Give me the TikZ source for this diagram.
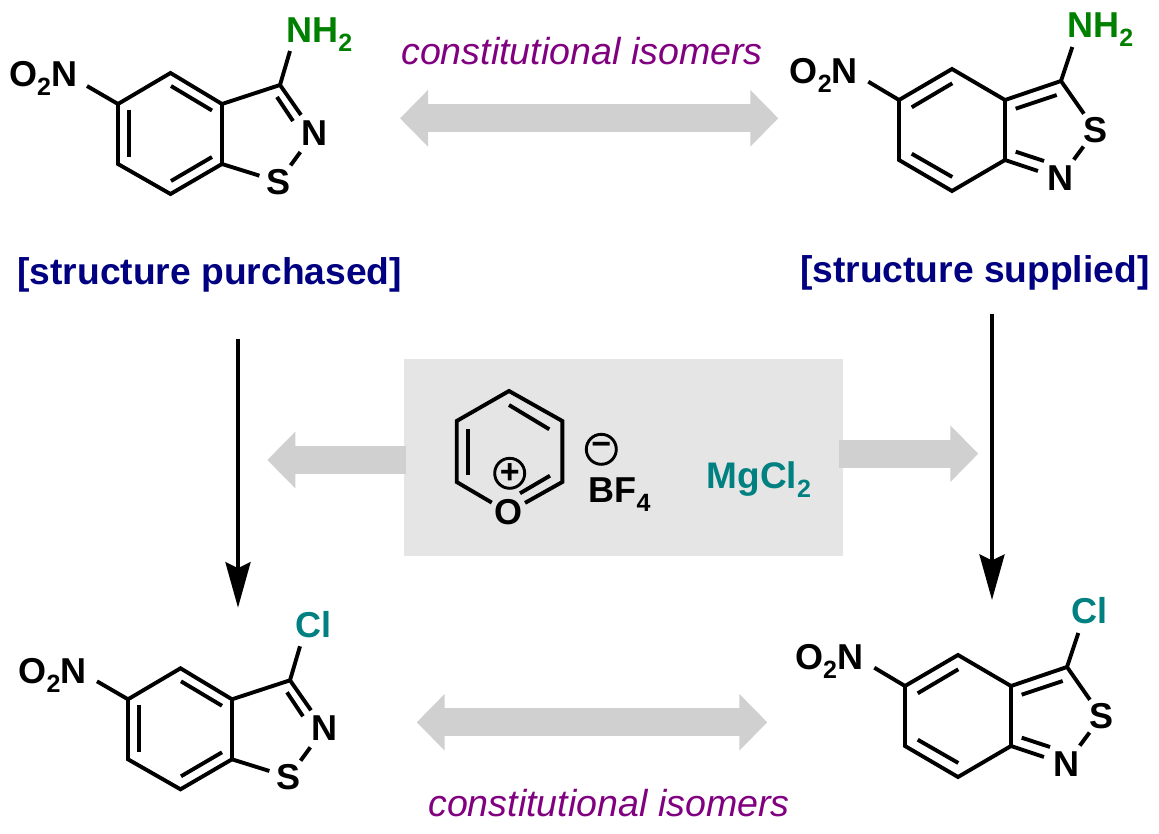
\documentclass[tikz,border=0pt]{standalone}
\usepackage{fontspec}
\setmainfont{Liberation Sans}
\usetikzlibrary{arrows.meta}
\definecolor{bigarrow}{HTML}{D0D0D0}
\definecolor{panel}{HTML}{E5E5E5}
\definecolor{amine}{HTML}{008000}
\definecolor{halide}{HTML}{008080}
\definecolor{tag}{HTML}{000080}
\definecolor{note}{HTML}{800080}
\newcommand\lab{\fontsize{36}{36}\selectfont\bfseries}
\newcommand\subs[1]{\raisebox{-8.7pt}{\fontsize{25}{25}\selectfont\bfseries #1}}
\tikzset{
  bond/.style={line width=3.9pt,line join=miter,miter limit=4},
  thinbond/.style={line width=3.9pt},
  atom/.style={circle,inner sep=0pt,font=\lab},
  atomN/.style={atom,minimum size=46pt},
  atomS/.style={atom,minimum size=40pt},
  atomO/.style={atom,minimum size=38pt},
  chem/.style={inner sep=0pt,font=\lab},
  tagtext/.style={inner sep=0pt,anchor=base west,text=tag,font=\fontsize{37.2}{37.2}\selectfont\bfseries},
  notetext/.style={inner sep=0pt,anchor=base west,text=note,font=\fontsize{37.6}{37.6}\selectfont\itshape},
  wide2/.style={bigarrow,line width=28pt,{Triangle[length=28pt,width=55pt]}-{Triangle[length=28pt,width=55pt]}},
  wide1/.style={bigarrow,line width=28pt,-{Triangle[length=28pt,width=55pt]}},
  react/.style={line width=3.8pt,-{Stealth[length=45.5pt,width=25pt,inset=6pt]}},
  charge/.style={circle,draw,line width=2.9pt,minimum size=30pt,inner sep=0pt,font=\fontsize{34}{34}\selectfont\bfseries}
}
% 1,2-benzisothiazole: #1 prefix, #2 shift, #3 substituent colour, #4 substituent text, #5 its left x, #6 its baseline, #7 O2N right x, #8 O2N baseline
\newcommand\isoA[8]{%
\begin{scope}[shift={#2},name prefix=#1-]
  \coordinate (c5) at (118,104); \coordinate (c4) at (170.5,73); \coordinate (c3a) at (222,104);
  \coordinate (c7a) at (222,164); \coordinate (c7) at (170.5,194); \coordinate (c6) at (118,164);
  \coordinate (c3) at (280,85);
  \node[atomN] (n) at (314,133.3) {N};
  \node[atomS] (s) at (278.7,181.7) {S};
  \coordinate (ne) at (301,115);
  \coordinate (i1a) at (129,110); \coordinate (i1b) at (129,157);
  \coordinate (i2a) at (171,86); \coordinate (i2b) at (212,110.5);
  \coordinate (i3a) at (171,181); \coordinate (i3b) at (212,157);
  \coordinate (i4a) at (277,97); \coordinate (i4b) at (293,121);
  \coordinate (rend) at (290,51); \coordinate (nend) at (87,86);
  \draw[bond] (c5) -- (c4) -- (c3a) -- (c7a) -- (c7) -- (c6) -- cycle;
  \draw[bond] (c3a) -- (c3) -- (ne);
  \draw[bond] (c7a) -- (s);
  \draw[bond] (n) -- (s);
  \draw[thinbond] (i1a) -- (i1b);
  \draw[thinbond] (i2a) -- (i2b);
  \draw[thinbond] (i3a) -- (i3b);
  \draw[thinbond] (i4a) -- (i4b);
  \draw[bond] (c3) -- (rend);
  \draw[bond] (c5) -- (nend);
  \node[chem,anchor=base east] (no) at (#7,#8) {O\subs{2}N};
  \node[chem,anchor=base west,text=#3] (sub) at (#5,#6) {#4};
\end{scope}}
% 2,1-benzisothiazole
\newcommand\isoB[8]{%
\begin{scope}[shift={#2},name prefix=#1-]
  \coordinate (c5) at (899,100); \coordinate (c4) at (952,69); \coordinate (c3a) at (1005,100);
  \coordinate (c7a) at (1005,160); \coordinate (c7) at (952,191); \coordinate (c6) at (899,160);
  \coordinate (c3) at (1061,81);
  \node[atomS] (s) at (1095.5,130.3) {S};
  \node[atomN] (n) at (1060,178.3) {N};
  \coordinate (i1a) at (911.7,107.3); \coordinate (i1b) at (952.3,83.3);
  \coordinate (i2a) at (911.7,153.7); \coordinate (i2b) at (952.3,177);
  \coordinate (i3a) at (1015.7,108.7); \coordinate (i3b) at (1056.7,95);
  \coordinate (i4a) at (1015.7,151.7); \coordinate (i4b) at (1044,161);
  \coordinate (rend) at (1072.3,47); \coordinate (nend) at (868.3,81.7);
  \draw[bond] (c5) -- (c4) -- (c3a) -- (c7a) -- (c7) -- (c6) -- cycle;
  \draw[bond] (c3a) -- (c3) -- (s);
  \draw[bond] (c7a) -- (n);
  \draw[bond] (s) -- (n);
  \draw[thinbond] (i1a) -- (i1b);
  \draw[thinbond] (i2a) -- (i2b);
  \draw[thinbond] (i3a) -- (i3b);
  \draw[thinbond] (i4a) -- (i4b);
  \draw[bond] (c3) -- (rend);
  \draw[bond] (c5) -- (nend);
  \node[chem,anchor=base east] (no) at (#7,#8) {O\subs{2}N};
  \node[chem,anchor=base west,text=#3] (sub) at (#5,#6) {#4};
\end{scope}}
\begin{document}
\begin{tikzpicture}[x=1pt,y=-1pt]
\useasboundingbox (0,0) rectangle (1159,834);
% panel
\node[fill=panel,inner sep=0pt,minimum width=439pt,minimum height=197pt,anchor=north west] (box) at (404,359) {};
% molecules
\isoA{a}{(0,0)}{amine}{NH\subs{2}}{286.2}{42.5}{77.3}{87}
\isoB{b}{(0,0)}{amine}{NH\subs{2}}{1067.2}{37.5}{858}{83.7}
\isoA{c}{(10,595.3)}{halide}{Cl}{285}{42.2}{76.7}{88}
\isoB{d}{(6,586)}{halide}{Cl}{1065.7}{37}{857.3}{83.3}
% labels
\node[notetext] (n1) at (401,64.5) {constitutional isomers};
\node[notetext] (n2) at (428,816) {constitutional isomers};
\node[tagtext] (t1) at (17.3,284.5) {[structure purchased]};
\node[tagtext] (t2) at (800,282.5) {[structure supplied]};
% wide arrows
\coordinate (w1a) at (400,118.3); \coordinate (w1b) at (778.3,118.3);
\coordinate (w2a) at (416.7,722.3); \coordinate (w2b) at (767.3,722.3);
\coordinate (w3a) at (405.7,460); \coordinate (w3b) at (267.3,460);
\coordinate (w4a) at (839.3,453.7); \coordinate (w4b) at (978.3,453.7);
\draw[wide2] (w1a) -- (w1b);
\draw[wide2] (w2a) -- (w2b);
\draw[wide1] (w3a) -- (w3b);
\draw[wide1] (w4a) -- (w4b);
% reaction arrows
\coordinate (r1a) at (238,339); \coordinate (r1b) at (238,607.7);
\coordinate (r2a) at (992,314); \coordinate (r2b) at (992,600);
\draw[react] (r1a) -- (r1b);
\draw[react] (r2a) -- (r2b);
% pyrylium
\coordinate (p1) at (509,391); \coordinate (p2) at (562.3,421); \coordinate (p3) at (562.3,482);
\coordinate (p4) at (456.7,482); \coordinate (p5) at (456.7,421);
\node[atomO] (po) at (508.3,512.3) {O};
\coordinate (q1a) at (520,493.3); \coordinate (q1b) at (550,475.7);
\coordinate (q2a) at (468.3,429.3); \coordinate (q2b) at (468.3,475);
\coordinate (q3a) at (509,405); \coordinate (q3b) at (549.3,429.3);
\draw[bond] (po) -- (p3) -- (p2) -- (p1) -- (p5) -- (p4) -- (po);
\draw[thinbond] (q1a) -- (q1b);
\draw[thinbond] (q2a) -- (q2b);
\draw[thinbond] (q3a) -- (q3b);
\node[charge] (plus) at (509.7,473.3) {+};
\node[charge] (minus) at (601.3,449.3) {−};
\node[chem,anchor=base west] (bf) at (588.5,502.5) {BF\subs{4}};
\node[chem,anchor=base west,font=\fontsize{37}{37}\selectfont\bfseries,text=halide] (mg) at (706.5,488.5) {MgCl\subs{2}};
\end{tikzpicture}
\end{document}
